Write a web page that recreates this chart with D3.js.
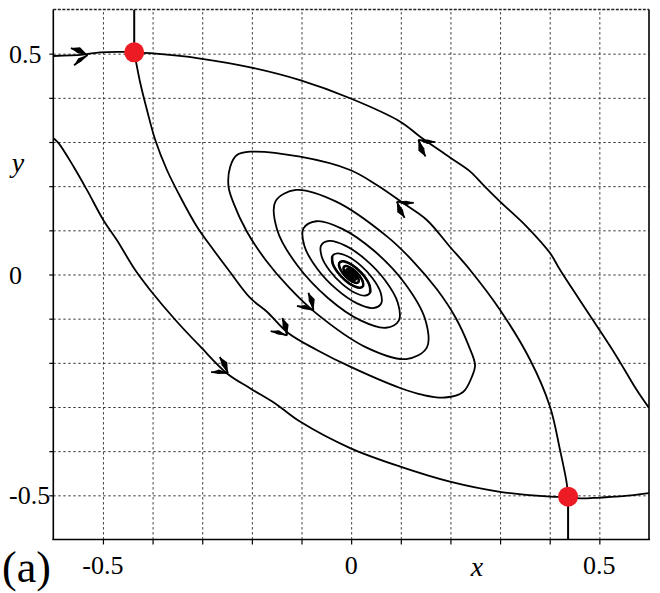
<!DOCTYPE html>
<html><head><meta charset="utf-8">
<script src="https://cdn.jsdelivr.net/npm/d3@7"></script>
<style>
body{margin:0;background:#fff}
svg{display:block}
</style>
</head><body>
<svg id="chart" width="660" height="593"></svg>
<script>
// ---------- data ----------
const xDomain = [-0.6, 0.6];
const yDomain = [-0.6, 0.6];
const gridValues = [-0.5, -0.4, -0.3, -0.2, -0.1, 0, 0.1, 0.2, 0.3, 0.4, 0.5];
const xTickLabels = [[-0.5, "-0.5"], [0, "0"], [0.5, "0.5"]];
const yTickLabels = [[0.5, "0.5"], [0, "0"], [-0.5, "-0.5"]];
const xAxisTitle = "x";
const yAxisTitle = "y";
const panelLabel = "(a)";

const saddles = [[-0.437, 0.503], [0.437, -0.503]];

// unstable manifold of upper saddle going up
const curveA = [[-0.437, 0.503], [-0.437, 0.6]];
// unstable manifold of lower saddle going down
const curveB = [[0.437, -0.503], [0.437, -0.6]];
// stable manifold into upper saddle from the left
const curveC = [[-0.6, 0.4947], [-0.54, 0.498], [-0.506, 0.503], [-0.455, 0.504], [-0.437, 0.503]];
// stable manifold into upper saddle from the right (listed from saddle outward)
const curveD = [[-0.437, 0.503], [-0.405, 0.501], [-0.304, 0.489], [-0.203, 0.469], [-0.103, 0.440],
  [-0.002, 0.399], [0.099, 0.346], [0.139, 0.312], [0.199, 0.265], [0.240, 0.233], [0.266, 0.203],
  [0.300, 0.165], [0.354, 0.108], [0.401, 0.048], [0.421, 0.010], [0.487, -0.103], [0.535, -0.186],
  [0.575, -0.261], [0.600, -0.302]];
// stable manifold into lower saddle from the left
const curveE = [[-0.599, 0.308], [-0.589, 0.297], [-0.559, 0.244], [-0.532, 0.191], [-0.499, 0.123],
  [-0.472, 0.078], [-0.435, 0.010], [-0.405, -0.035], [-0.354, -0.103], [-0.304, -0.163],
  [-0.250, -0.224], [-0.203, -0.258], [-0.153, -0.292], [-0.103, -0.333], [-0.002, -0.393],
  [0.099, -0.435], [0.199, -0.469], [0.300, -0.492], [0.401, -0.503], [0.437, -0.503]];
// stable manifold into lower saddle from the right
const curveF = [[0.600, -0.495], [0.548, -0.502], [0.501, -0.505], [0.461, -0.507], [0.437, -0.503]];
// unstable manifold of upper saddle spiralling into the focus
const curveG = [[-0.437, 0.503], [-0.4329, 0.4788], [-0.4248, 0.4335], [-0.4113, 0.3724], [-0.3946, 0.3045],
  [-0.3711, 0.2366], [-0.3443, 0.1761], [-0.3106, 0.1082], [-0.2772, 0.0555], [-0.2470, 0.0102],
  [-0.2033, -0.0532], [-0.1691, -0.0849], [-0.1268, -0.1324], [-0.0691, -0.1709], [-0.0020, -0.2087],
  [0.0987, -0.2570], [0.1450, -0.2728], [0.1892, -0.2785], [0.2255, -0.2660], [0.2430, -0.2321],
  [0.2496, -0.2049], [0.2367, -0.1611], [0.2105, -0.0979],
  [0.1723, -0.0330], [0.1252, 0.0294], [0.0733, 0.0852], [-0.0301, 0.1650], [-0.1111, 0.1914], [-0.1524, 0.1657],
  [-0.1491, 0.1015], [-0.1086, 0.0208], [-0.0462, -0.0537], [0.0189, -0.1040], [0.0700, -0.1206],
  [0.0960, -0.1044], [0.0940, -0.0640], [0.0684, -0.0131], [0.0291, 0.0338], [-0.0119, 0.0655],
  [-0.0441, 0.0760], [-0.0605, 0.0657], [-0.0592, 0.0403], [-0.0431, 0.0083], [-0.0184, -0.0213],
  [0.0075, -0.0413], [0.0278, -0.0479], [0.0382, -0.0414], [0.0373, -0.0254], [0.0272, -0.0052],
  [0.0115, 0.0135], [-0.0047, 0.0260], [-0.0175, 0.0302], [-0.0240, 0.0260], [-0.0234, 0.0160],
  [-0.0171, 0.0033], [-0.0073, -0.0085], [0.0030, -0.0163], [0.0111, -0.0190], [0.0151, -0.0164],
  [0.0148, -0.0101], [0.0108, -0.0020], [0.0046, 0.0053], [-0.0019, 0.0103], [-0.0069, 0.0120],
  [-0.0095, 0.0104], [-0.0093, 0.0063], [-0.0068, 0.0013], [-0.0029, -0.0034], [0.0012, -0.0065],
  [0.0044, -0.0076], [0.0060, -0.0065], [0, 0]];
// unstable manifold of lower saddle spiralling into the focus
const curveH = [[0.437, -0.503], [0.4343, -0.4727], [0.4208, -0.3974], [0.4006, -0.2993], [0.3604, -0.1930],
  [0.3000, -0.0804], [0.2396, 0.0102], [0.1993, 0.0623], [0.1524, 0.1234], [0.1053, 0.1612],
  [0.0517, 0.2026], [-0.0020, 0.2366], [-0.1027, 0.2667], [-0.2033, 0.2780], [-0.2301, 0.2705],
  [-0.2436, 0.2441], [-0.2470, 0.1988], [-0.2367, 0.1611], [-0.2105, 0.0979],
  [-0.1723, 0.0330], [-0.1252, -0.0294], [-0.0733, -0.0852], [0.0301, -0.1650], [0.1111, -0.1914], [0.1524, -0.1657],
  [0.1491, -0.1015], [0.1086, -0.0208], [0.0462, 0.0537], [-0.0189, 0.1040], [-0.0700, 0.1206],
  [-0.0960, 0.1044], [-0.0940, 0.0640], [-0.0684, 0.0131], [-0.0291, -0.0338], [0.0119, -0.0655],
  [0.0441, -0.0760], [0.0605, -0.0657], [0.0592, -0.0403], [0.0431, -0.0083], [0.0184, 0.0213],
  [-0.0075, 0.0413], [-0.0278, 0.0479], [-0.0382, 0.0414], [-0.0373, 0.0254], [-0.0272, 0.0052],
  [-0.0115, -0.0135], [0.0047, -0.0260], [0.0175, -0.0302], [0.0240, -0.0260], [0.0234, -0.0160],
  [0.0171, -0.0033], [0.0073, 0.0085], [-0.0030, 0.0163], [-0.0111, 0.0190], [-0.0151, 0.0164],
  [-0.0148, 0.0101], [-0.0108, 0.0020], [-0.0046, -0.0053], [0.0019, -0.0103], [0.0069, -0.0120],
  [0.0095, -0.0104], [0.0093, -0.0063], [0.0068, -0.0013], [0.0029, 0.0034], [-0.0012, 0.0065],
  [-0.0044, 0.0076], [-0.0060, 0.0065], [0, 0]];

// flow arrows: [curve name, x, y, flows toward end of list?]
const arrows = [
  ["C", -0.531, 0.497, true],
  ["D", 0.1355, 0.3047, false],
  ["E", -0.248, -0.223, true],
  ["G", -0.129, -0.138, true],
  ["H", 0.092, 0.165, true],
  ["H", -0.0759, -0.0804, true]
];

// ---------- drawing ----------
const FONT = '"Liberation Serif"';
const plot = {left: 53.3, right: 649, top: 9.5, bottom: 539.5};
const x = d3.scaleLinear().domain(xDomain).range([plot.left, plot.right]);
const y = d3.scaleLinear().domain(yDomain).range([plot.bottom, plot.top]);
const svg = d3.select("#chart");

svg.append("defs").append("clipPath").attr("id", "clip")
  .append("rect").attr("x", plot.left).attr("y", plot.top)
  .attr("width", plot.right - plot.left).attr("height", plot.bottom - plot.top);

// grid
const grid = svg.append("g");
grid.append("g").attr("transform", `translate(0,${plot.bottom})`)
  .call(d3.axisBottom(x).tickValues(gridValues).tickSize(-(plot.bottom - plot.top)).tickFormat(""))
  .call(g => g.select(".domain").remove());
grid.append("g").attr("transform", `translate(${plot.left},0)`)
  .call(d3.axisLeft(y).tickValues(gridValues).tickSize(-(plot.right - plot.left)).tickFormat(""))
  .call(g => g.select(".domain").remove());
grid.selectAll("line").attr("stroke", "#3a3a3a").attr("stroke-width", 1).attr("stroke-dasharray", "2.4,2.6");

// outer ticks
svg.append("g").attr("transform", `translate(0,${plot.bottom})`)
  .call(d3.axisBottom(x).tickValues(gridValues).tickSize(5).tickFormat(""))
  .call(g => g.select(".domain").remove())
  .selectAll("line").attr("stroke", "#000").attr("stroke-width", 1.2);
svg.append("g").attr("transform", `translate(${plot.left},0)`)
  .call(d3.axisLeft(y).tickValues(gridValues).tickSize(4).tickFormat(""))
  .call(g => g.select(".domain").remove())
  .selectAll("line").attr("stroke", "#000").attr("stroke-width", 1.2);

// frame
const frame = svg.append("g").attr("fill", "none");
frame.append("line").attr("x1", plot.left).attr("x2", plot.right).attr("y1", plot.top).attr("y2", plot.top)
  .attr("stroke", "#222").attr("stroke-width", 1.6).attr("stroke-dasharray", "3,1.5");
frame.append("line").attr("x1", plot.left).attr("x2", plot.left).attr("y1", plot.top).attr("y2", plot.bottom)
  .attr("stroke", "#000").attr("stroke-width", 1.6);
frame.append("line").attr("x1", plot.right).attr("x2", plot.right).attr("y1", plot.top).attr("y2", plot.bottom)
  .attr("stroke", "#000").attr("stroke-width", 1.6);
frame.append("line").attr("x1", plot.left - 1).attr("x2", plot.right + 1).attr("y1", plot.bottom).attr("y2", plot.bottom)
  .attr("stroke", "#000").attr("stroke-width", 1.6);

// trajectories
const curves = {A: curveA, B: curveB, C: curveC, D: curveD, E: curveE, F: curveF, G: curveG, H: curveH};
const line = d3.line().x(d => x(d[0])).y(d => y(d[1])).curve(d3.curveCatmullRom.alpha(0.5));
const traj = svg.append("g").attr("clip-path", "url(#clip)");
Object.entries(curves).forEach(([k, pts]) => {
  traj.append("path").attr("d", line(pts)).attr("fill", "none").attr("stroke", "#000")
    .attr("stroke-width", (k === "A" || k === "B") ? 2 : 1.8).attr("stroke-linejoin", "round");
});
// densely wound core of the spirals: slightly heavier stroke, as in the reference
[curveG, curveH].forEach(pts => {
  const n = pts.length;
  traj.append("path").attr("d", line(pts.slice(n - 26))).attr("fill", "none").attr("stroke", "#000")
    .attr("stroke-width", 2.5).attr("stroke-linejoin", "round");
});

// arrows
const arrowG = svg.append("g").attr("fill", "#000");
arrows.forEach(([name, ax, ay, forward]) => {
  const pts = curves[name].map(d => [x(d[0]), y(d[1])]);
  const tx = x(ax), ty = y(ay);
  let best = 0, bd = Infinity;
  for (let i = 0; i < pts.length - 1; i++) {
    const mx = (pts[i][0] + pts[i + 1][0]) / 2, my = (pts[i][1] + pts[i + 1][1]) / 2;
    const dd = (mx - tx) ** 2 + (my - ty) ** 2;
    if (dd < bd) { bd = dd; best = i; }
  }
  let dx = pts[best + 1][0] - pts[best][0], dy = pts[best + 1][1] - pts[best][1];
  const len = Math.hypot(dx, dy); dx /= len; dy /= len;
  if (!forward) { dx = -dx; dy = -dy; }
  const bx = -dx, by = -dy;
  const th = 30 * Math.PI / 180;
  [[th, 18, 4.2], [-th, 17, 3.0]].forEach(([a, L, w]) => {
    const rx = bx * Math.cos(a) - by * Math.sin(a), ry = bx * Math.sin(a) + by * Math.cos(a);
    const nx = -ry, ny = rx;
    const ex = tx + rx * L, ey = ty + ry * L;
    const mx = tx + rx * L * 0.55, my = ty + ry * L * 0.55;
    const poly = [[tx, ty], [mx + nx * w, my + ny * w], [ex, ey], [mx - nx * w * 0.5, my - ny * w * 0.5]];
    arrowG.append("path").attr("d", "M" + poly.map(p => p.join(",")).join("L") + "Z");
    arrowG.append("line").attr("x1", tx).attr("y1", ty).attr("x2", ex).attr("y2", ey)
      .attr("stroke", "#000").attr("stroke-width", 1.8);
  });
});

// saddle points
svg.append("g").selectAll("circle").data(saddles).join("circle")
  .attr("cx", d => x(d[0])).attr("cy", d => y(d[1])).attr("r", 10).attr("fill", "#ed1c24");

// labels
const labels = svg.append("g").attr("fill", "#000");
labels.selectAll("text.yt").data(yTickLabels).join("text").attr("class", "yt")
  .attr("x", 9).attr("y", d => y(d[0]) + 9).attr("font-size", 26).style("font-family", FONT).text(d => d[1]);
labels.selectAll("text.xt").data(xTickLabels).join("text").attr("class", "xt")
  .attr("x", d => x(d[0])).attr("y", 574).attr("text-anchor", "middle").attr("font-size", 26)
  .style("font-family", FONT).text(d => d[1]);
labels.append("text").attr("x", 477).attr("y", 576).attr("text-anchor", "middle").style("font-family", FONT)
  .attr("font-size", 28).style("font-style", "italic").text(xAxisTitle);
labels.append("text").attr("x", 18).attr("y", 172).attr("text-anchor", "middle").style("font-family", FONT)
  .attr("font-size", 28).style("font-style", "italic").text(yAxisTitle);
labels.append("text").attr("x", 2).attr("y", 582).attr("font-size", 44).style("font-family", FONT).text(panelLabel);
</script>
</body></html>
